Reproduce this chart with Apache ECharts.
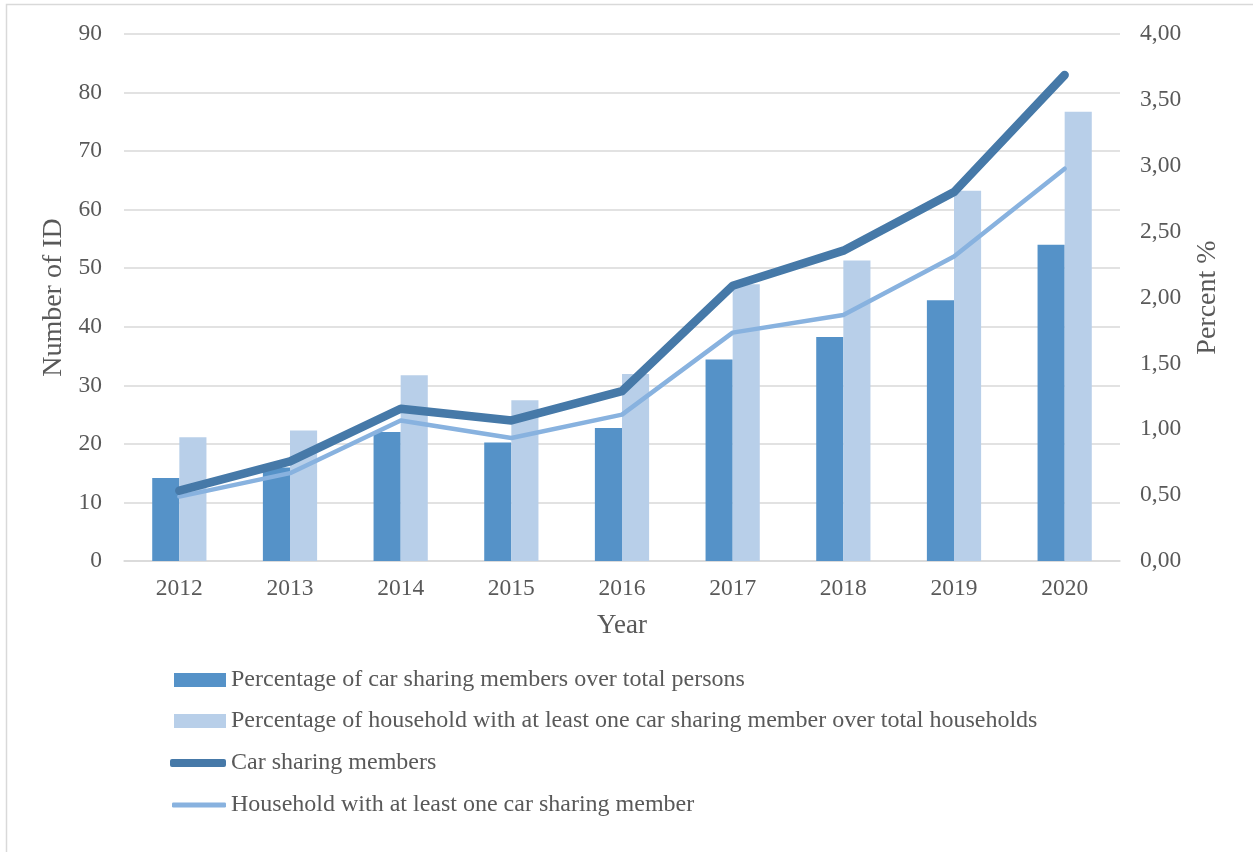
<!DOCTYPE html>
<html>
<head>
<meta charset="utf-8">
<script src="https://cdn.jsdelivr.net/npm/echarts@6/dist/echarts.min.js"></script>
<style>
  html, body { margin: 0; padding: 0; background: #ffffff; }
  #chart { width: 1253px; height: 852px; }
</style>
</head>
<body>
<div id="chart"></div>
<script>
// Car sharing in the survey area, 2012-2020
const years = ['2012', '2013', '2014', '2015', '2016', '2017', '2018', '2019', '2020'];

// Percent values (right axis)
const pctMembersOverPersons = [0.63, 0.71, 0.98, 0.90, 1.01, 1.53, 1.70, 1.98, 2.40];
const pctHouseholdsOverHouseholds = [0.94, 0.99, 1.41, 1.22, 1.42, 2.10, 2.28, 2.81, 3.41];

// Counts (left axis)
const carSharingMembers = [12, 17, 26, 24, 29, 47, 53, 63, 83];
const householdsWithMember = [11, 15, 24, 21, 25, 39, 42, 52, 67];

const names = [
  'Percentage of car sharing members over total persons',
  'Percentage of household with at least one car sharing member over total households',
  'Car sharing members',
  'Household with at least one car sharing member'
];

const FONT = '"Liberation Serif", "Times New Roman", serif';
const TEXT = '#595959';
const GRID = '#d9d9d9';

const colors = {
  barDark: '#5592c8',
  barLight: '#b8cfe9',
  lineDark: '#4679a8',
  lineLight: '#88b2df'
};

// One legend block per row so each key can have its own swatch size
function legendRow(name, centerY, icon, w, h, left, color) {
  return {
    show: true,
    data: [{ name: name, icon: icon, itemStyle: { color: color, borderWidth: 0 } }],
    left: left,
    top: centerY - 12,
    orient: 'vertical',
    itemWidth: w,
    itemHeight: h,
    itemGap: 0,
    padding: 0,
    selectedMode: false,
    textStyle: { fontFamily: FONT, fontSize: 24, lineHeight: 24, color: TEXT }
  };
}

const chart = echarts.init(document.getElementById('chart'), null, { renderer: 'canvas' });

chart.setOption({
  backgroundColor: '#ffffff',
  animation: false,
  graphic: [{
    type: 'rect',
    shape: { x: 6.5, y: 4.5, width: 1300, height: 900 },
    style: { fill: 'none', stroke: '#d9d9d9', lineWidth: 1.5 },
    silent: true,
    z: -10
  }],
  grid: { left: 124, right: 133, top: 34, bottom: 291, containLabel: false },
  legend: [
    legendRow(names[0], 680, 'rect', 52, 14, 174, colors.barDark),
    legendRow(names[1], 721, 'rect', 52, 14, 174, colors.barLight),
    legendRow(names[2], 763, 'roundRect', 56, 8, 170, colors.lineDark),
    legendRow(names[3], 805, 'roundRect', 54, 5, 172, colors.lineLight)
  ],
  xAxis: {
    type: 'category',
    data: years,
    boundaryGap: true,
    name: 'Year',
    nameLocation: 'middle',
    nameGap: 51,
    nameTextStyle: { fontFamily: FONT, fontSize: 27, color: TEXT },
    axisLine: { show: true, lineStyle: { color: GRID, width: 1.5 } },
    axisTick: { show: false },
    axisLabel: { fontFamily: FONT, fontSize: 23.5, color: TEXT, margin: 16 }
  },
  yAxis: [
    {
      type: 'value',
      min: 0, max: 90, interval: 10,
      name: 'Number of ID',
      nameLocation: 'middle',
      nameGap: 52,
      nameRotate: 90,
      nameTextStyle: { fontFamily: FONT, fontSize: 28, color: TEXT },
      axisLine: { show: false },
      axisTick: { show: false },
      splitLine: { show: true, lineStyle: { color: GRID, width: 1.5 } },
      axisLabel: { fontFamily: FONT, fontSize: 23.5, color: TEXT, margin: 22 }
    },
    {
      type: 'value',
      min: 0, max: 4, interval: 0.5,
      position: 'right',
      name: 'Percent %',
      nameLocation: 'middle',
      nameGap: 74,
      nameRotate: 90,
      nameTextStyle: { fontFamily: FONT, fontSize: 28, color: TEXT },
      axisLine: { show: false },
      axisTick: { show: false },
      splitLine: { show: false },
      axisLabel: {
        fontFamily: FONT, fontSize: 23.5, color: TEXT, margin: 20,
        formatter: v => v.toFixed(2).replace('.', ',')
      }
    }
  ],
  series: [
    {
      name: names[0],
      type: 'bar',
      yAxisIndex: 1,
      data: pctMembersOverPersons,
      barGap: '0%',
      barCategoryGap: '51%',
      itemStyle: { color: colors.barDark },
      z: 2
    },
    {
      name: names[1],
      type: 'bar',
      yAxisIndex: 1,
      data: pctHouseholdsOverHouseholds,
      barGap: '0%',
      barCategoryGap: '51%',
      itemStyle: { color: colors.barLight },
      z: 2
    },
    {
      name: names[2],
      type: 'line',
      yAxisIndex: 0,
      data: carSharingMembers,
      showSymbol: false,
      symbol: 'none',
      lineStyle: { color: colors.lineDark, width: 8.5, cap: 'round', join: 'round' },
      itemStyle: { color: colors.lineDark },
      z: 4
    },
    {
      name: names[3],
      type: 'line',
      yAxisIndex: 0,
      data: householdsWithMember,
      showSymbol: false,
      symbol: 'none',
      lineStyle: { color: colors.lineLight, width: 4.5, cap: 'round', join: 'round' },
      itemStyle: { color: colors.lineLight },
      z: 3
    }
  ]
});
</script>
</body>
</html>
